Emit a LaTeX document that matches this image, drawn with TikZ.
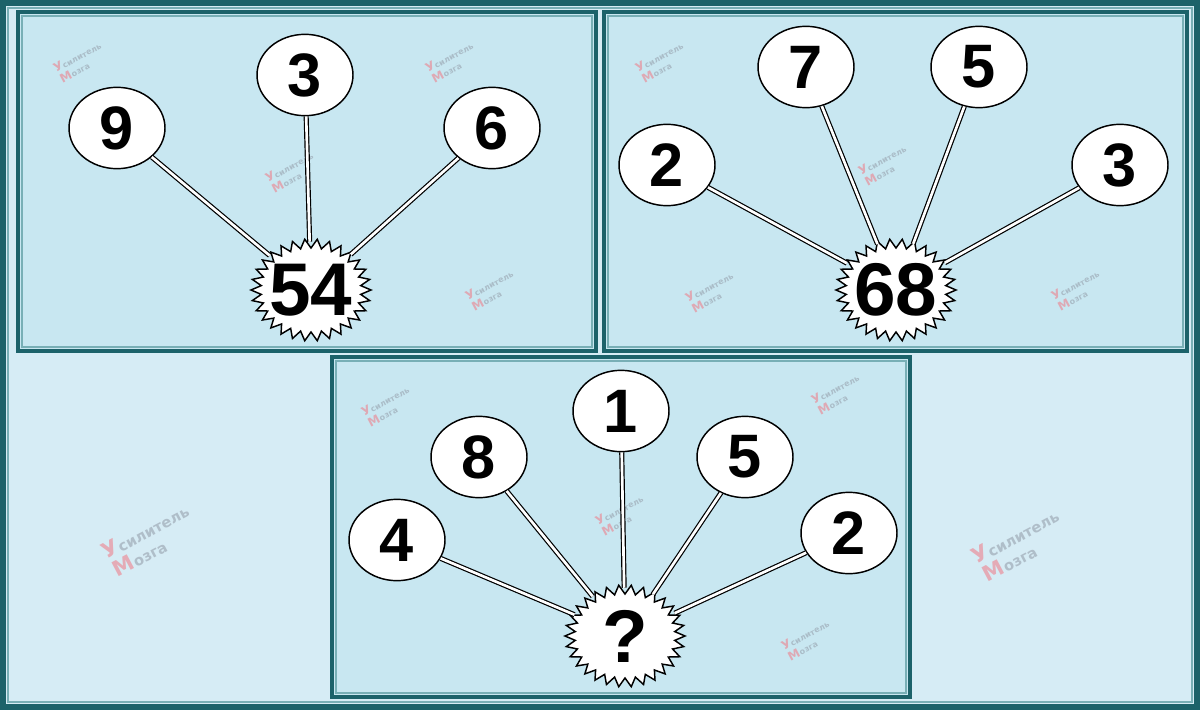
\documentclass[tikz,border=0pt]{standalone}
\usepackage{fontspec}
\setmainfont{Liberation Sans}
\newfontfamily\wmfont{DejaVu Sans}
\usetikzlibrary{shapes.geometric}
\definecolor{tealA}{RGB}{28,98,106}
\definecolor{tealB}{RGB}{120,175,182}
\definecolor{bgblue}{RGB}{214,236,245}
\definecolor{panelblue}{RGB}{200,231,241}
\definecolor{wmgrey}{RGB}{150,160,172}
\definecolor{wmred}{RGB}{238,128,140}
\newcommand\burstshape[2]{%
  \draw[fill=white, line width=1.1pt, line join=miter] ({#1+60},{#2})
   \foreach \i in {0,...,29}{
     -- ({#1+50*cos(\i*12+6)},{#2+42*sin(\i*12+6)})
     -- ({#1+60*cos(\i*12+12)},{#2+51*sin(\i*12+12)})
   } -- cycle;}
\newcommand\wm[4]{%
  \node[rotate=28, opacity=0.6, align=left, inner sep=0pt, font=\wmfont\bfseries\fontsize{#3}{#3}\selectfont, text=wmgrey]
   at (#1,#2) {\textcolor{wmred}{\fontsize{#4}{#4}\selectfont У}силитель\\[0.25em]\hspace*{0.1em}\textcolor{wmred}{\fontsize{#4}{#4}\selectfont М}озга};}
\begin{document}
\begin{tikzpicture}[x=0.75pt,y=-0.75pt,
 num/.style={ellipse, draw, line width=1.1pt, fill=white, minimum width=72pt, minimum height=61pt, inner sep=0pt, font=\fontsize{46}{50}\selectfont\bfseries},
 bignum/.style={ellipse, minimum width=84pt, minimum height=72pt, inner sep=0pt, font=\fontsize{56}{60}\selectfont\bfseries},
 link/.style={draw=black, line width=0.9pt, double=white, double distance=2pt},
 panel/.style={fill=panelblue, draw=tealA, line width=2.4pt},
 panelin/.style={draw=tealB, line width=1.5pt},
]
\useasboundingbox (0,0) rectangle (1200,710);
\fill[bgblue] (0,0) rectangle (1200,710);
\draw[tealA, line width=4.5pt] (3,3) rectangle (1197,707);
\draw[tealB, line width=2pt] (8,8) rectangle (1192,702);
% panels
\draw[panel] (18,12) rectangle (596,351);
\draw[panelin] (22,16) rectangle (592,347);
\draw[panel] (604,12) rectangle (1187,351);
\draw[panelin] (608,16) rectangle (1183,347);
\draw[panel] (332,357) rectangle (910,697);
\draw[panelin] (336,361) rectangle (906,693);
% watermarks
\wm{80}{62}{6}{9}
\wm{452}{62}{6}{9}
\wm{292}{172}{6}{9}
\wm{492}{290}{6}{9}
\wm{662}{62}{6}{9}
\wm{885}{165}{6}{9}
\wm{712}{292}{6}{9}
\wm{1078}{290}{6}{9}
\wm{388}{406}{6}{9}
\wm{838}{394}{6}{9}
\wm{622}{515}{6}{9}
\wm{808}{640}{6}{9}
\wm{150}{540}{11}{16}
\wm{1020}{545}{11}{16}
% panel 1
\burstshape{311}{290}
\node[bignum] (b1) at (311,290) {54};
\node[num] (a1) at (117,128) {9};
\node[num] (a2) at (305,75) {3};
\node[num] (a3) at (492,128) {6};
\draw[link] (a1) -- (b1);
\draw[link] (a2) -- (b1);
\draw[link] (a3) -- (b1);
% panel 2
\burstshape{896}{290}
\node[bignum] (b2) at (896,290) {68};
\node[num] (c1) at (667,165) {2};
\node[num] (c2) at (806,67) {7};
\node[num] (c3) at (979,67) {5};
\node[num] (c4) at (1120,165) {3};
\draw[link] (c1) -- (b2);
\draw[link] (c2) -- (b2);
\draw[link] (c3) -- (b2);
\draw[link] (c4) -- (b2);
% panel 3
\burstshape{625}{636}
\node[bignum] (b3) at (625,636) {?};
\node[num] (d1) at (397,540) {4};
\node[num] (d2) at (479,457) {8};
\node[num] (d3) at (621,411) {1};
\node[num] (d4) at (745,457) {5};
\node[num] (d5) at (849,533) {2};
\draw[link] (d1) -- (b3);
\draw[link] (d2) -- (b3);
\draw[link] (d3) -- (b3);
\draw[link] (d4) -- (b3);
\draw[link] (d5) -- (b3);
\end{tikzpicture}
\end{document}
